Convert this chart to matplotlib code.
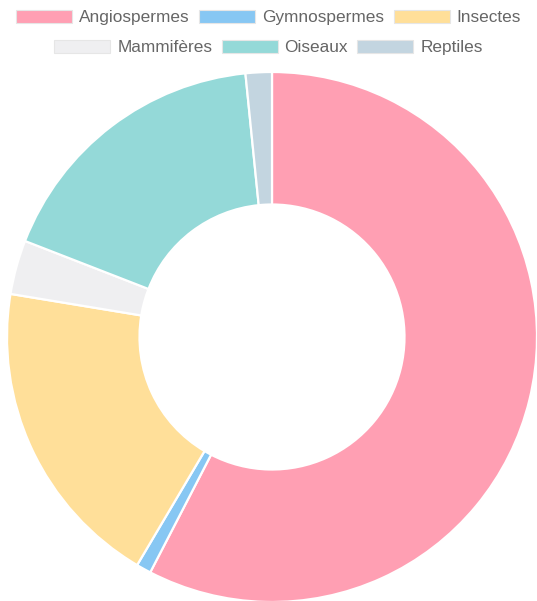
import matplotlib
matplotlib.use('Agg')
import matplotlib.pyplot as plt
from matplotlib.patches import Patch

# species share per group
labels = ['Angiospermes', 'Gymnospermes', 'Insectes', 'Mammifères', 'Oiseaux', 'Reptiles']
values = [57.6, 0.9, 19.1, 3.3, 17.5, 1.6]
colors = ['#FF9FB3', '#87C7F3', '#FFDF99', '#EFEFF1', '#94D9D8', '#C3D5E0']

plt.rcParams['font.family'] = ['Liberation Sans', 'DejaVu Sans']

fig = plt.figure(figsize=(5.37, 6.01), dpi=100)
ax = fig.add_axes([7/537, -1/601, 530/537, 530/601])

ax.pie(values, colors=colors, startangle=90, counterclock=False, radius=1,
       wedgeprops=dict(width=0.5, edgecolor='white', linewidth=1.6))
ax.set_xlim(-1, 1)
ax.set_ylim(-1, 1)
ax.set_aspect('auto')
ax.axis('off')

handles = [Patch(facecolor=c, edgecolor='#e6e6e6', linewidth=0.8) for c in colors]

# legend in two centred rows
rows = [(0, 3, 1 - 17.5/601), (3, 6, 1 - 47.5/601)]
for a, b, y in rows:
    leg = fig.legend(handles[a:b], labels[a:b], loc='center', bbox_to_anchor=(0.5, y),
                     ncol=3, frameon=False, fontsize=12.4, labelcolor='#666666',
                     handlelength=3.25, handleheight=0.8, handletextpad=0.4,
                     columnspacing=0.55, borderpad=0, borderaxespad=0)

fig.savefig('out.png', dpi=100)
